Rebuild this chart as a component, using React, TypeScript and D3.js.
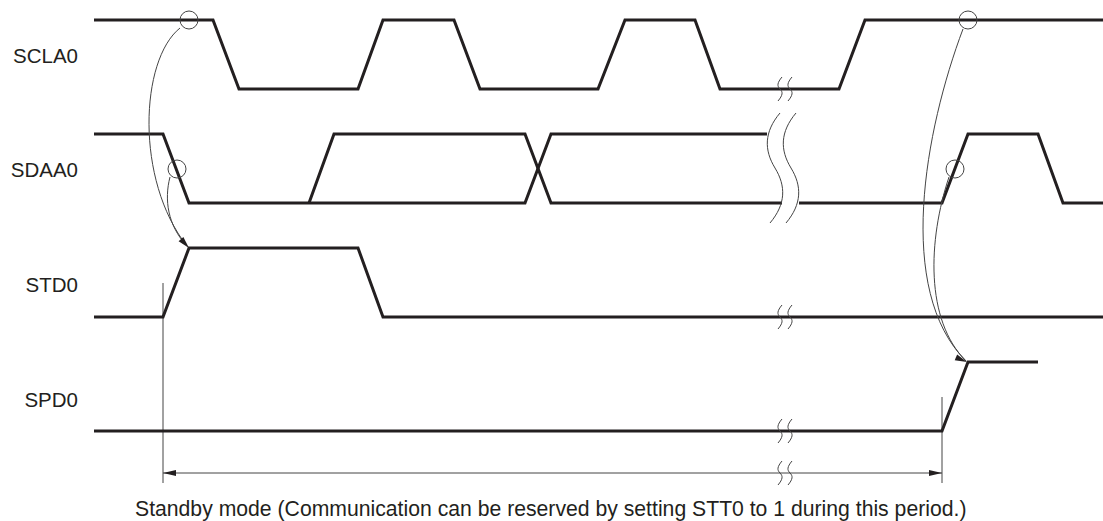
import React from "react";
import * as d3 from "d3";

const W = 1103;
const H = 521;

// signal names and rows
const signalNames = ["SCLA0", "SDAA0", "STD0", "SPD0"];
const highY = [20, 134, 248, 362];
const lowY = [89, 203, 317, 431];
const labelBaseline = [63, 177, 292, 407];

// waveform segments: [time, level] (level 1 = high, 0 = low)
const sclaWave: [number, number][] = [
  [94, 1], [213, 1], [239, 0], [358, 0], [383, 1], [454, 1], [480, 0],
  [598, 0], [625, 1], [695, 1], [720, 0], [839, 0], [865, 1], [1103, 1],
];
const sdaWaveA: [number, number][] = [
  [94, 1], [163, 1], [189, 0], [525, 0], [551, 1], [767, 1],
];
const sdaWaveB: [number, number][] = [
  [309, 0], [334, 1], [525, 1], [551, 0], [782, 0],
];
const sdaWaveC: [number, number][] = [
  [799, 0], [942, 0], [968, 1], [1038, 1], [1063, 0], [1103, 0],
];
const stdWave: [number, number][] = [
  [94, 0], [163, 0], [189, 1], [358, 1], [383, 0], [1103, 0],
];
const spdWave: [number, number][] = [
  [94, 0], [942, 0], [968, 1], [1038, 1],
];

const waves: { row: number; pts: [number, number][] }[] = [
  { row: 0, pts: sclaWave },
  { row: 1, pts: sdaWaveA },
  { row: 1, pts: sdaWaveB },
  { row: 1, pts: sdaWaveC },
  { row: 2, pts: stdWave },
  { row: 3, pts: spdWave },
];

// small break marks: [time, rowY]
const smallBreakTimes = [780, 790];
const smallBreakRows = [89, 317, 431, 473];
// big break on SDAA0
const bigBreakTimes = [775, 791];

// event circles [time, y]
const circles: [number, number][] = [
  [189, 20], [177, 169], [968, 20], [955, 169],
];

// causal curves (cubic bezier control points)
const curves: [number, number][][] = [
  [[180, 28], [140, 60], [135, 180], [187, 246]],
  [[170, 177], [164, 200], [168, 225], [186, 245]],
  [[963, 29], [925, 130], [895, 290], [966, 361]],
  [[949, 177], [928, 240], [925, 320], [966, 361]],
];

// standby markers
const standbyStart = 163;
const standbyEnd = 942;
const standbyArrowY = 473;
const markerTops = [283, 397];
const markerBottom = 483;
const caption =
  "Standby mode (Communication can be reserved by setting STT0 to 1 during this period.)";

const INK = "#231f20";
const THIN = "#444";

export default function App() {
  const x = d3.scaleLinear().domain([0, W]).range([0, W]);

  const line = (row: number) =>
    d3
      .line<[number, number]>()
      .x((d) => x(d[0]))
      .y((d) => (d[1] ? highY[row] : lowY[row]));

  const arrowHead = (tip: [number, number], from: [number, number], len = 11, hw = 3.2) => {
    const dx = tip[0] - from[0];
    const dy = tip[1] - from[1];
    const L = Math.hypot(dx, dy);
    const ux = dx / L;
    const uy = dy / L;
    const bx = tip[0] - ux * len;
    const by = tip[1] - uy * len;
    return `M${tip[0]},${tip[1]}L${bx - uy * hw},${by + ux * hw}L${bx + uy * hw},${by - ux * hw}Z`;
  };

  const curvePath = (c: [number, number][]) => {
    const p = d3.path();
    p.moveTo(x(c[0][0]), c[0][1]);
    p.bezierCurveTo(x(c[1][0]), c[1][1], x(c[2][0]), c[2][1], x(c[3][0]), c[3][1]);
    return p.toString();
  };

  const smallBreak = (cx: number, cy: number) =>
    `M${cx + 2},${cy - 12} C${cx - 3},${cy - 6} ${cx - 3},${cy - 3} ${cx},${cy} C${cx + 3},${cy + 3} ${cx + 3},${cy + 6} ${cx - 2},${cy + 12}`;

  const bigBreak = (cx: number) =>
    `M${cx + 5},113 C${cx - 11},132 ${cx - 11},150 ${cx},168 C${cx + 11},186 ${cx + 11},204 ${cx - 5},223`;

  return (
    <svg
      width={W}
      height={H}
      style={{ position: "absolute", left: 0, top: 0, background: "#fff" }}
      fontFamily="Liberation Sans, Arial, sans-serif"
    >
      <rect width={W} height={H} fill="#fff" />
      {signalNames.map((n, i) => (
        <text key={n} x={78} y={labelBaseline[i]} fontSize={20.5} textAnchor="end" fill={INK}>
          {n}
        </text>
      ))}

      {/* marker verticals */}
      <line x1={x(standbyStart)} x2={x(standbyStart)} y1={markerTops[0]} y2={markerBottom} stroke={THIN} strokeWidth={1} />
      <line x1={x(standbyEnd)} x2={x(standbyEnd)} y1={markerTops[1]} y2={markerBottom} stroke={THIN} strokeWidth={1} />

      {/* standby arrow */}
      <line x1={x(standbyStart)} x2={x(standbyEnd)} y1={standbyArrowY} y2={standbyArrowY} stroke={THIN} strokeWidth={1} />
      <path d={arrowHead([x(standbyStart), standbyArrowY], [x(standbyStart) + 20, standbyArrowY], 13, 3)} fill={INK} />
      <path d={arrowHead([x(standbyEnd), standbyArrowY], [x(standbyEnd) - 20, standbyArrowY], 13, 3)} fill={INK} />

      {/* waveforms */}
      {waves.map((w, i) => (
        <path key={i} d={line(w.row)(w.pts) || ""} fill="none" stroke={INK} strokeWidth={3} strokeLinejoin="miter" />
      ))}

      {/* big break on SDAA0 */}
      {bigBreakTimes.map((t, i) => (
        <path key={i} d={bigBreak(x(t))} fill="none" stroke={THIN} strokeWidth={1} />
      ))}

      {/* small breaks */}
      {smallBreakRows.map((ry) =>
        smallBreakTimes.map((t) => (
          <path key={`${ry}-${t}`} d={smallBreak(x(t), ry)} fill="none" stroke={THIN} strokeWidth={1} />
        ))
      )}

      {/* circles */}
      {circles.map((c, i) => (
        <circle key={i} cx={x(c[0])} cy={c[1]} r={9} fill="none" stroke={THIN} strokeWidth={1} />
      ))}

      {/* curves */}
      {curves.map((c, i) => (
        <path key={i} d={curvePath(c)} fill="none" stroke={THIN} strokeWidth={1} />
      ))}
      <path d={arrowHead([189, 248], [180, 238], 12, 3.2)} fill={INK} />
      <path d={arrowHead([967, 362], [955, 357], 12, 3.2)} fill={INK} />

      <text x={135} y={516} fontSize={21.2} fill={INK}>
        {caption}
      </text>
    </svg>
  );
}
